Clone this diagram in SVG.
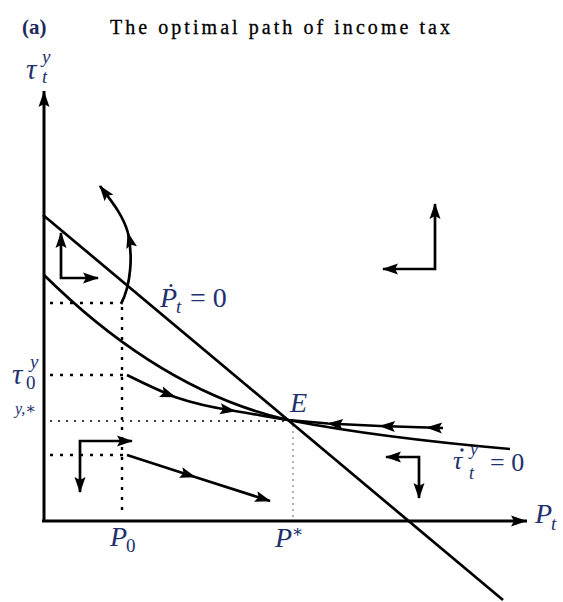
<svg xmlns="http://www.w3.org/2000/svg" width="563" height="602" viewBox="0 0 563 602">
<defs>
<marker id="ah" markerUnits="userSpaceOnUse" markerWidth="18" markerHeight="12" refX="15" refY="5.5" orient="auto" overflow="visible"><path d="M0,0 L16,5.5 L0,11 L3,5.5 z" fill="#000"/></marker>
<marker id="ahs" markerUnits="userSpaceOnUse" markerWidth="18" markerHeight="12" refX="15" refY="5.5" orient="auto-start-reverse" overflow="visible"><path d="M0,0 L16,5.5 L0,11 L3,5.5 z" fill="#000"/></marker>
<marker id="axh" markerUnits="userSpaceOnUse" markerWidth="18" markerHeight="12" refX="16" refY="5.5" orient="auto" overflow="visible"><path d="M0,0 L16,5.5 L0,11 L3,5.5 z" fill="#000"/></marker>
</defs>
<style>
.ax{stroke:#000;stroke-width:3;fill:none}
.ln{stroke:#000;stroke-width:2.7;fill:none}
.tr{stroke:#000;stroke-width:2.7;fill:none;marker-mid:url(#ah)}
.dot{stroke:#000;stroke-width:2.4;stroke-dasharray:3 7;fill:none}
.fdot{stroke:#000;stroke-width:1.5;stroke-dasharray:2 6;fill:none}
.gdot{stroke:#9a9a9a;stroke-width:1.5;stroke-dasharray:2 4;fill:none}
.m{font-family:"Liberation Serif","DejaVu Serif",serif;font-style:italic;fill:#22306e}
.r{font-family:"Liberation Serif","DejaVu Serif",serif;font-style:normal;fill:#22306e}
</style>
<rect width="563" height="602" fill="#fff"/>

<g id="title">
<text x="22" y="34" font-family="Liberation Serif, serif" font-weight="bold" font-size="21" fill="#1e2a5a">(a)</text>
<text x="110" y="34" font-family="Liberation Serif, serif" font-size="20" fill="#000" stroke="#000" stroke-width="0.3" textLength="340" lengthAdjust="spacing">The optimal path of income tax</text>
</g>

<g id="axes">
<path class="ax" d="M44,522 L44,91" marker-end="url(#axh)"/>
<path class="ax" d="M42,521 L527,521" marker-end="url(#axh)"/>
</g>

<g id="guides">
<path class="dot" d="M122,307 L122,517"/>
<path class="dot" d="M50,303 L118,303"/>
<path class="dot" d="M50,375 L124,375"/>
<path class="dot" d="M50,455 L124,455"/>
<path class="fdot" d="M50,421 L288,421"/>
<path class="gdot" d="M293,425 L293,518"/>
</g>

<g id="curves">
<path id="pdot-line" class="ln" d="M43,215 L503,600"/>
<path id="taudot-curve" class="ln" d="M44,275 C120,350 200,400 288,420 C350,432 430,442 510,449"/>
</g>

<g id="trajectories">
<path class="tr" d="M127,375 C145,384 160,391 175,397 C195,404 215,408 235,411 C255,414 272,418 288,420"/>
<path class="tr" d="M443,428 L427,427.5 L380,426 L328,423.5 L288,420"/>
<path class="tr" d="M127,455 L195,477 L270,501" marker-end="url(#ah)"/>
<path class="tr" d="M121,304 C131,285 133,255 128,233 C123,215 112,202 100,186" marker-end="url(#ah)"/>
</g>

<g id="directions">
<path class="ln" d="M61,233 L61,278 L98,278" marker-start="url(#ahs)" marker-end="url(#ah)"/>
<path class="ln" d="M435,204 L435,269 L383,269" marker-start="url(#ahs)" marker-end="url(#ah)"/>
<path class="ln" d="M132,441 L80,441 L80,492" marker-start="url(#ahs)" marker-end="url(#ah)"/>
<path class="ln" d="M386,457 L419,457 L419,498" marker-start="url(#ahs)" marker-end="url(#ah)"/>
</g>

<g id="labels">
<text class="m" x="26" y="79" font-size="29">τ</text>
<text class="m" x="42" y="63" font-size="19">y</text>
<text class="m" x="42" y="83" font-size="19">t</text>

<text class="m" x="12" y="384" font-size="29">τ</text>
<text class="m" x="30" y="368" font-size="19">y</text>
<text class="r" x="26" y="389" font-size="19">0</text>

<text class="m" x="15" y="414" font-size="16">y,∗</text>

<text class="m" x="290" y="412" font-size="28">E</text>

<text class="m" x="160" y="307" font-size="28">Ṗ</text>
<text class="m" x="176" y="313" font-size="19">t</text>
<text class="r" x="190" y="307" font-size="28">= 0</text>

<text class="m" x="110" y="546" font-size="28">P</text>
<text class="r" x="126" y="552" font-size="19">0</text>

<text class="m" x="275" y="547" font-size="28">P</text>
<text class="r" x="292" y="537" font-size="17">∗</text>

<text class="m" x="535" y="523" font-size="28">P</text>
<text class="m" x="551" y="530" font-size="19">t</text>

<text class="m" x="453" y="469" font-size="26">τ</text>
<circle cx="462" cy="450" r="1.7" fill="#22306e"/>
<text class="m" x="470" y="455" font-size="18">y</text>
<text class="m" x="469" y="479" font-size="18">t</text>
<text class="r" x="490" y="471" font-size="26">= 0</text>
</g>
</svg>
